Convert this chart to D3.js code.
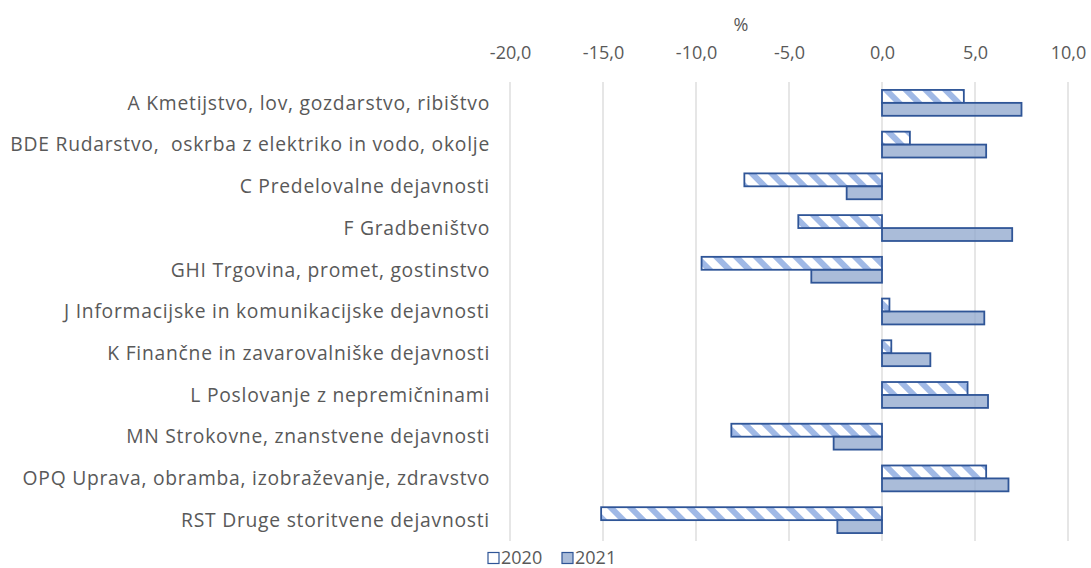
<!DOCTYPE html>
<html>
<head>
<meta charset="utf-8">
<script src="https://cdn.jsdelivr.net/npm/d3@7"></script>
<style>
  html, body { margin: 0; padding: 0; background: #fff; }
  svg text { font-family: "Open Sans", "Liberation Sans", sans-serif; fill: #595959; }
</style>
</head>
<body>
<svg id="chart" width="1091" height="568"></svg>
<script>
(function () {
  'use strict';

  // ── Data ──────────────────────────────────────────────────────────────────
  var categories = [
    'A Kmetijstvo, lov, gozdarstvo, ribištvo',
    'BDE Rudarstvo,  oskrba z elektriko in vodo, okolje',
    'C Predelovalne dejavnosti',
    'F Gradbeništvo',
    'GHI Trgovina, promet, gostinstvo',
    'J Informacijske in komunikacijske dejavnosti',
    'K Finančne in zavarovalniške dejavnosti',
    'L Poslovanje z nepremičninami',
    'MN Strokovne, znanstvene dejavnosti',
    'OPQ Uprava, obramba, izobraževanje, zdravstvo',
    'RST Druge storitvene dejavnosti'
  ];
  var values2020 = [4.4, 1.5, -7.4, -4.5, -9.7, 0.4, 0.5, 4.6, -8.1, 5.6, -15.1];
  var values2021 = [7.5, 5.6, -1.9, 7.0, -3.8, 5.5, 2.6, 5.7, -2.6, 6.8, -2.4];
  var seriesNames = ['2020', '2021'];
  var xTicks = [-20, -15, -10, -5, 0, 5, 10];

  // ── Layout ────────────────────────────────────────────────────────────────
  var svg = d3.select('#chart');
  var left = 510, right = 1068, top = 82, bottom = 541;

  var x = d3.scaleLinear().domain([-20, 10]).range([left, right]);
  var y = d3.scaleBand().domain(categories).range([top, bottom]).paddingInner(0.38).paddingOuter(0.19);
  var sub = d3.scaleBand().domain(seriesNames).range([0, y.bandwidth()]);

  // hatch pattern for 2020 (light blue "\" stripes on white)
  var defs = svg.append('defs');
  var pat = defs.append('pattern')
    .attr('id', 'hatch')
    .attr('patternUnits', 'userSpaceOnUse')
    .attr('width', 14).attr('height', 14)
    .attr('patternTransform', 'rotate(-45)');
  pat.append('rect').attr('width', 14).attr('height', 14).attr('fill', '#fff');
  pat.append('rect').attr('x', 0).attr('width', 6).attr('height', 14).attr('fill', '#a0b9e6');

  // ── Grid ──────────────────────────────────────────────────────────────────
  svg.append('g')
    .selectAll('line').data(xTicks).join('line')
    .attr('x1', x).attr('x2', x)
    .attr('y1', top).attr('y2', bottom)
    .attr('stroke', '#d9d9d9').attr('stroke-width', 1.3);

  // ── Top axis ──────────────────────────────────────────────────────────────
  var fmt = function (d) { return d3.format('.1f')(d).replace('.', ',').replace('−', '-'); };
  var axis = svg.append('g')
    .attr('transform', 'translate(0,' + 53 + ')')
    .call(d3.axisTop(x).tickValues(xTicks).tickFormat(fmt).tickSize(0).tickPadding(0));
  axis.select('.domain').remove();
  axis.selectAll('text')
    .attr('font-size', 18)
    .attr('dy', '0.35em')
    .style('font-family', '"Open Sans", sans-serif')
    .attr('fill', '#595959');

  svg.append('text')
    .attr('x', 741).attr('y', 25).attr('dy', '0.35em')
    .attr('text-anchor', 'middle').attr('font-size', 18)
    .text('%');

  // ── Category labels ───────────────────────────────────────────────────────
  svg.append('g')
    .selectAll('text').data(categories).join('text')
    .attr('x', 490)
    .attr('y', function (d) { return y(d) + y.bandwidth() / 2; })
    .attr('dy', '0.35em')
    .attr('text-anchor', 'end')
    .attr('font-size', 19.3)
    .attr('letter-spacing', 0.75)
    .style('white-space', 'pre')
    .attr('xml:space', 'preserve')
    .text(function (d) { return d; });

  // ── Bars ──────────────────────────────────────────────────────────────────
  function drawSeries(vals, name, fill, opacity) {
    svg.append('g')
      .selectAll('rect').data(vals).join('rect')
      .attr('x', function (d) { return x(Math.min(0, d)); })
      .attr('y', function (d, i) { return y(categories[i]) + sub(name); })
      .attr('width', function (d) { return Math.abs(x(d) - x(0)); })
      .attr('height', sub.bandwidth())
      .attr('fill', fill)
      .attr('fill-opacity', opacity)
      .attr('stroke', '#2f5597')
      .attr('stroke-width', 1.8);
  }
  drawSeries(values2020, '2020', 'url(#hatch)', 1);
  drawSeries(values2021, '2021', '#8ea5cc', 0.75);

  // ── Legend ────────────────────────────────────────────────────────────────
  var legend = svg.append('g').attr('transform', 'translate(0,558)');
  var legendItems = [
    { name: '2020', x: 488, fill: '#fff', op: 1 },
    { name: '2021', x: 562, fill: '#8ea5cc', op: 0.75 }
  ];
  legendItems.forEach(function (it) {
    legend.append('rect')
      .attr('x', it.x).attr('y', -5.5).attr('width', 11).attr('height', 11)
      .attr('fill', it.fill).attr('fill-opacity', it.op)
      .attr('stroke', '#2f5597').attr('stroke-width', 1.2);
    legend.append('text')
      .attr('x', it.x + 13).attr('y', 0).attr('dy', '0.35em')
      .attr('font-size', 18)
      .text(it.name);
  });
})();
</script>
</body>
</html>
